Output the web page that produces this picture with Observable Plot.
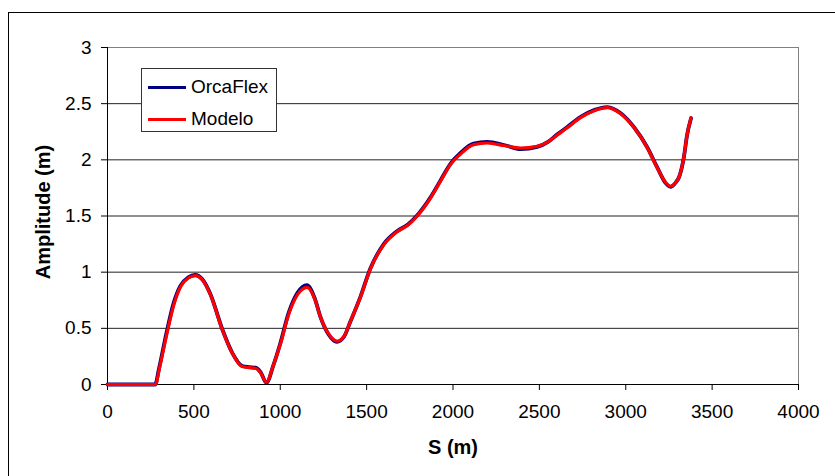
<!DOCTYPE html>
<html>
<head>
<meta charset="utf-8">
<script src="https://cdn.jsdelivr.net/npm/d3@7"></script>
<script src="https://cdn.jsdelivr.net/npm/@observablehq/plot@0.6"></script>
<style>
  html, body { margin: 0; padding: 0; background: #fff; overflow: hidden; }
  #wrap { position: relative; width: 835px; height: 476px; font-family: "Liberation Sans", Arial, sans-serif; }
  #border { position: absolute; left: 8px; top: 12px; width: 900px; height: 600px; border-left: 1px solid #000; border-top: 1px solid #000; box-sizing: border-box; pointer-events: none; }
  #legend { position: absolute; left: 141px; top: 68px; width: 136px; height: 64px; border: 1px solid #333; background: #fff; box-sizing: border-box; }
  .item { position: absolute; left: 6px; height: 24px; display: flex; align-items: center; font-size: 19px; color: #000; }
  .swatch { width: 38px; height: 3px; margin-right: 5px; }
</style>
</head>
<body>
<div id="wrap">
  <div id="chart"></div>
  <div id="border"></div>
  <div id="legend"></div>
</div>
<script>
// Series names and colours
const seriesNames = ["OrcaFlex", "Modelo"];
const seriesColors = ["#000080", "#ff0000"];

// Axis ticks
const xTicks = [0, 500, 1000, 1500, 2000, 2500, 3000, 3500, 4000];
const yTicks = [0, 0.5, 1, 1.5, 2, 2.5, 3];

// Curvilinear coordinate S (m) and amplitude (m) — Modelo
const sModelo = [0, 100, 200, 278, 300, 345, 384, 423, 470, 509, 550, 596, 664, 722, 779, 820, 857, 886, 920, 960, 1001, 1050, 1100, 1156, 1200, 1233, 1280, 1330, 1370, 1407, 1465, 1522, 1600, 1677, 1740, 1793, 1870, 1928, 1986, 2043, 2120, 2198, 2300, 2391, 2487, 2550, 2603, 2661, 2738, 2820, 2893, 2970, 3047, 3124, 3182, 3230, 3259, 3290, 3307, 3336, 3355, 3378];
const aModelo = [0, 0, 0, 0, 0.14, 0.46, 0.71, 0.87, 0.95, 0.97, 0.93, 0.80, 0.49, 0.28, 0.16, 0.15, 0.145, 0.105, 0.02, 0.17, 0.36, 0.63, 0.80, 0.865, 0.76, 0.60, 0.45, 0.385, 0.43, 0.565, 0.78, 1.03, 1.245, 1.36, 1.42, 1.50, 1.66, 1.81, 1.96, 2.05, 2.135, 2.15, 2.125, 2.105, 2.12, 2.16, 2.22, 2.285, 2.375, 2.44, 2.465, 2.41, 2.29, 2.11, 1.93, 1.80, 1.765, 1.80, 1.84, 2.02, 2.22, 2.375];

// OrcaFlex
const sOrca = [0, 100, 200, 276, 298, 343, 382, 421, 468, 507, 550, 597, 665, 723, 780, 820, 857, 886, 920, 960, 1000, 1049, 1099, 1154, 1199, 1233, 1280, 1328, 1369, 1406, 1464, 1521, 1599, 1676, 1739, 1792, 1869, 1927, 1985, 2042, 2119, 2198, 2300, 2391, 2487, 2550, 2602, 2660, 2737, 2820, 2893, 2971, 3048, 3125, 3183, 3230, 3259, 3290, 3307, 3336, 3355, 3378];
const aOrca = [0, 0, 0, 0, 0.14, 0.47, 0.72, 0.875, 0.955, 0.975, 0.935, 0.80, 0.49, 0.28, 0.165, 0.155, 0.15, 0.11, 0.015, 0.17, 0.365, 0.64, 0.815, 0.885, 0.77, 0.60, 0.445, 0.38, 0.425, 0.56, 0.78, 1.03, 1.25, 1.365, 1.425, 1.505, 1.665, 1.815, 1.965, 2.06, 2.145, 2.16, 2.13, 2.095, 2.115, 2.16, 2.225, 2.29, 2.38, 2.445, 2.47, 2.415, 2.29, 2.11, 1.93, 1.795, 1.76, 1.80, 1.84, 2.02, 2.22, 2.37];

const orca = sOrca.map((s, i) => ({s, a: aOrca[i]}));
const modelo = sModelo.map((s, i) => ({s, a: aModelo[i]}));

const chart = Plot.plot({
  width: 835,
  height: 476,
  marginLeft: 107,
  marginRight: 37,
  marginTop: 47,
  marginBottom: 92,
  x: {domain: [0, 4000], label: null},
  y: {domain: [0, 3], label: null},
  style: {fontFamily: "'Liberation Sans', Arial, sans-serif", fontSize: "19px", background: "transparent", color: "#000", overflow: "visible"},
  marks: [
    Plot.ruleY(yTicks.filter(d => d > 0), {stroke: "#222", strokeWidth: 1}),
    Plot.frame({stroke: "#808080"}),
    Plot.ruleX([0], {stroke: "#000"}),
    Plot.ruleY([0], {stroke: "#000"}),
    Plot.axisX({ticks: xTicks, tickSize: 6, tickPadding: 14, tickFormat: d => String(d), fontSize: 19, stroke: "#000", label: null}),
    Plot.axisY({ticks: yTicks, tickSize: 6, tickPadding: 10, tickFormat: d => String(d), fontSize: 19, stroke: "#000", label: null}),
    Plot.line(orca, {x: "s", y: "a", stroke: seriesColors[0], strokeWidth: 3.8, curve: "monotone-x"}),
    Plot.line(modelo, {x: "s", y: "a", stroke: seriesColors[1], strokeWidth: 3.2, curve: "monotone-x"}),
    Plot.text(["Amplitude (m)"], {frameAnchor: "left", dx: -64, dy: -4, rotate: -90, textAnchor: "middle", fontWeight: "bold", fontSize: 20, lineAnchor: "middle"}),
    Plot.text(["S (m)"], {frameAnchor: "bottom", dy: 63, textAnchor: "middle", fontWeight: "bold", fontSize: 20, lineAnchor: "middle"})
  ]
});
document.getElementById("chart").appendChild(chart);

const legend = document.getElementById("legend");
seriesNames.forEach((name, i) => {
  const item = document.createElement("div");
  item.className = "item";
  item.style.top = (6 + i * 32) + "px";
  const sw = document.createElement("div");
  sw.className = "swatch";
  sw.style.background = seriesColors[i];
  const label = document.createElement("span");
  label.textContent = name;
  item.appendChild(sw);
  item.appendChild(label);
  legend.appendChild(item);
});
</script>
</body>
</html>
